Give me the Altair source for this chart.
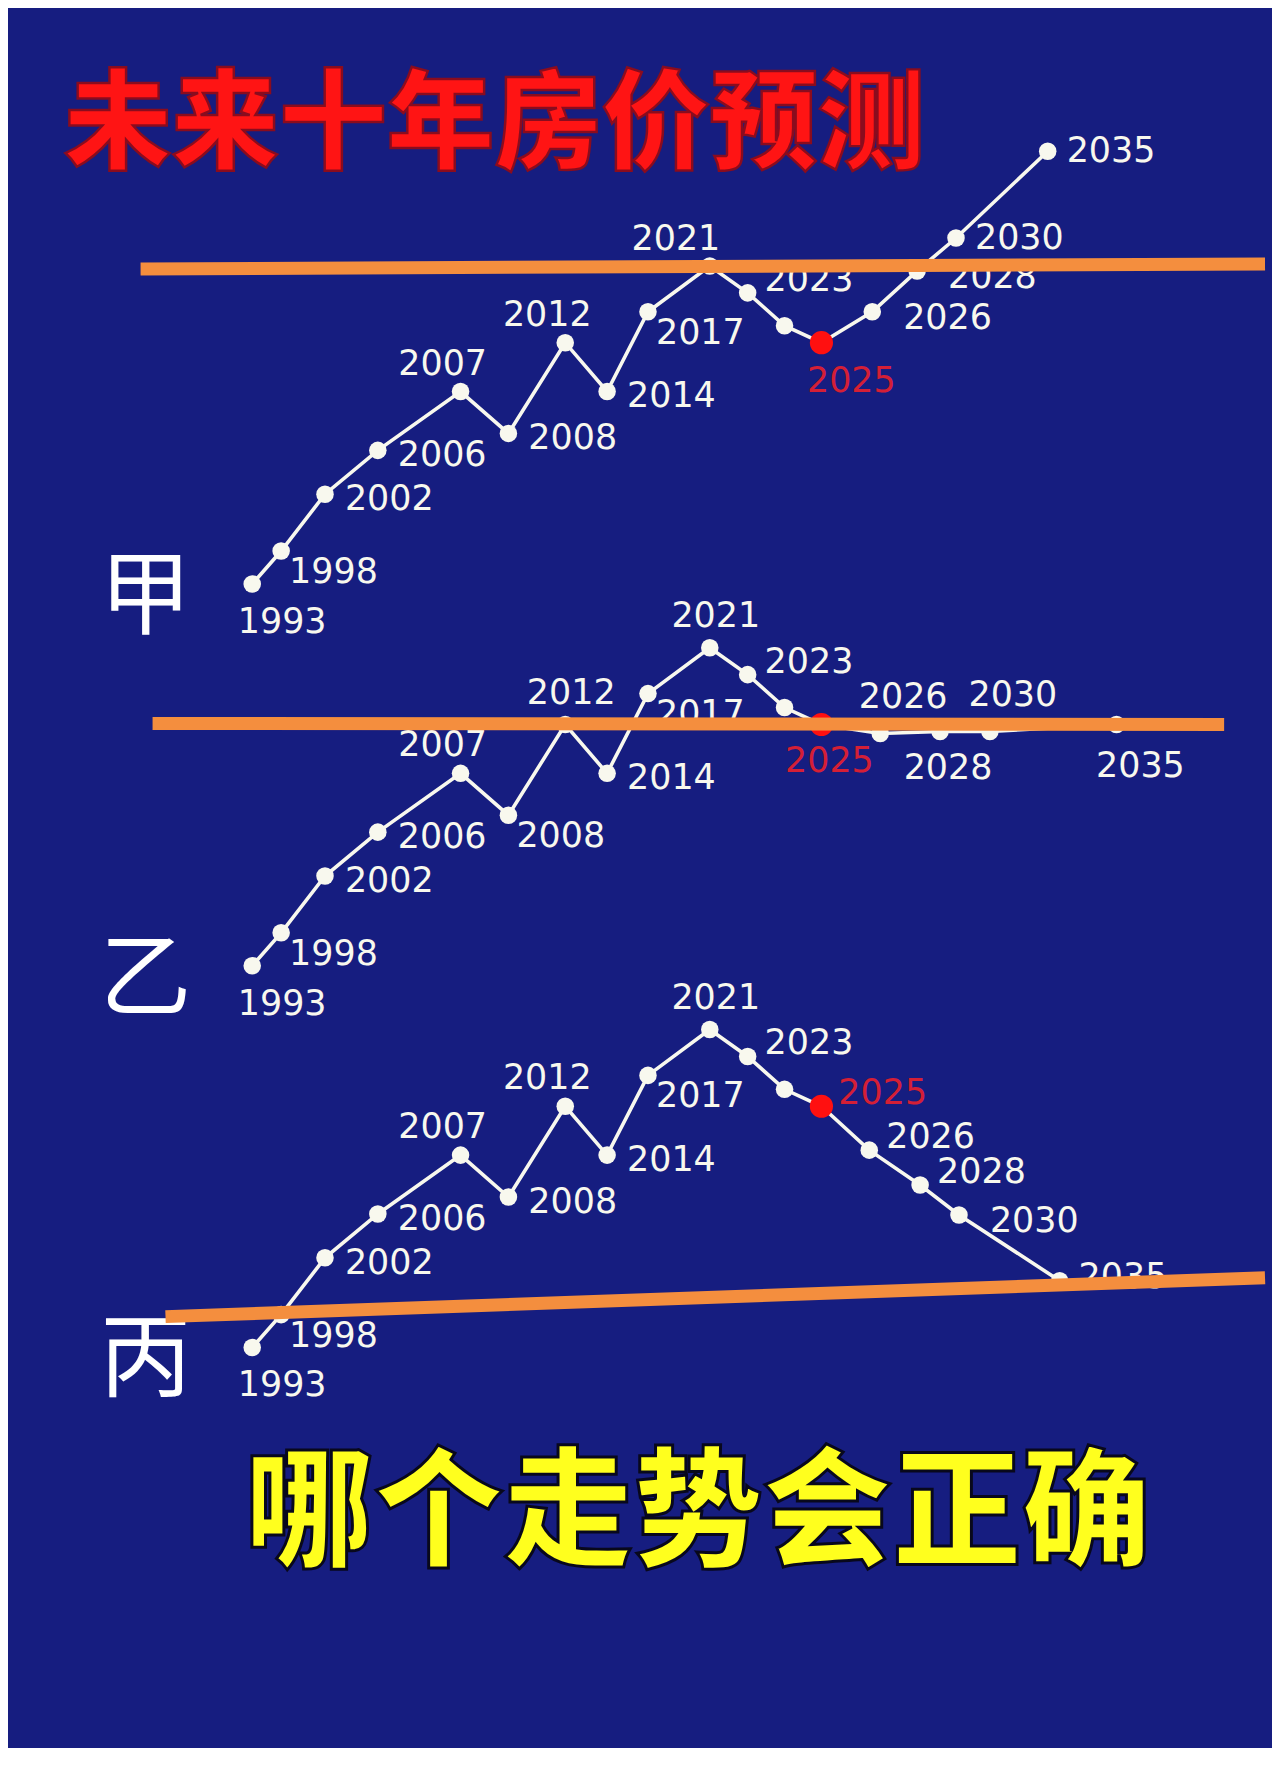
import pandas as pd
import altair as alt

TITLE = "未来十年房价预测"
QUESTION = "哪个走势会正确"

# shared history 1993-2025 (t = position along the time strip, level = price level)
hist_years = [1993, 1998, 2002, 2006, 2007, 2008, 2012, 2014, 2017, 2021, 2023, 2024, 2025]
hist_t = [0, 2.9, 7.3, 12.6, 20.9, 25.7, 31.4, 35.6, 39.7, 45.9, 49.7, 53.4, 57.1]
hist_level = [0, 3.3, 9.0, 13.4, 19.3, 15.1, 24.2, 19.3, 27.3, 31.9, 29.2, 25.9, 24.2]

# three scenarios for 2026-2035
fut_years = [2026, 2028, 2030, 2035]
jia_t = [62.2, 66.7, 70.6, 79.8]
jia_level = [27.3, 31.4, 34.7, 43.4]
yi_t = [63.0, 69.0, 74.0, 86.7]
yi_level = [23.3, 23.5, 23.5, 24.2]
bing_t = [61.9, 67.0, 70.9, 81.0]
bing_level = [19.8, 16.3, 13.3, 6.7]

# orange reference line of each scenario: t start, level start, t end, level end
jia_ref = [-11.2, 31.6, 101.6, 32.1]
yi_ref = [-10.0, 24.3, 97.5, 24.2]
bing_ref = [-8.7, 3.1, 101.6, 7.0]

# where each year label sits next to its dot
jia_side = ["below", "lower", "right", "right", "above", "right", "above", "right", "lower",
            "left_up", "upper", "none", "below", "far", "far", "level", "level"]
yi_side = ["below", "lower", "right", "right", "above", "lower", "over", "right", "lower",
           "over", "upper", "none", "under", "over_r", "under", "over_r", "under_r"]
bing_side = ["below", "lower", "right", "right", "above", "right", "above", "right", "lower",
             "over", "upper", "none", "upper", "upper", "upper", "far", "beside"]

BG = "#161d80"
WHITE = "#f8f8ee"
ORANGE = "#f48e3e"
RED_DOT = "#ff1010"
RED_TEXT = "#d41f36"
CJK = "Noto Sans CJK SC"
W = 1264
PANEL_H = 383

T_DOMAIN = [-24.5, 101.9]
LEVEL_DOMAIN = [-5.3, 33.0]

SIDES = {
    "below": dict(align="center", dx=30, dy=38),
    "under": dict(align="center", dx=8, dy=37),
    "under_r": dict(align="center", dx=24, dy=42),
    "above": dict(align="center", dx=-18, dy=-28),
    "left_up": dict(align="center", dx=-34, dy=-27),
    "over": dict(align="center", dx=6, dy=-32),
    "over_r": dict(align="center", dx=23, dy=-37),
    "right": dict(align="left", dx=20, dy=5),
    "level": dict(align="left", dx=19, dy=0),
    "far": dict(align="left", dx=31, dy=6),
    "beside": dict(align="left", dx=19, dy=-4),
    "lower": dict(align="left", dx=8, dy=21),
    "upper": dict(align="left", dx=17, dy=-13),
}


def panel(name, f_t, f_level, sides, ref):
    df = pd.DataFrame({
        "year": hist_years + fut_years,
        "t": hist_t + f_t,
        "level": hist_level + f_level,
        "side": sides,
    })
    df["label"] = df["year"].astype(str)
    df["now"] = df["year"] == 2025

    x = alt.X("t:Q", scale=alt.Scale(domain=T_DOMAIN, nice=False, zero=False), axis=None)
    y = alt.Y("level:Q", scale=alt.Scale(domain=LEVEL_DOMAIN, nice=False, zero=False), axis=None)
    base = alt.Chart(df).encode(x=x, y=y)

    line = base.mark_line(color=WHITE, strokeWidth=3.6)
    dots = base.mark_circle(opacity=1).encode(
        color=alt.condition(alt.datum.now, alt.value(RED_DOT), alt.value(WHITE)),
        size=alt.condition(alt.datum.now, alt.value(540), alt.value(310)),
    )
    labels = [
        base.transform_filter(alt.datum.side == side)
        .mark_text(font="DejaVu Sans", fontSize=35, baseline="middle", **opts)
        .encode(
            text="label:N",
            color=alt.condition(alt.datum.now, alt.value(RED_TEXT), alt.value(WHITE)),
        )
        for side, opts in SIDES.items()
    ]

    ref_df = pd.DataFrame({"t": [ref[0]], "level": [ref[1]], "t2": [ref[2]], "level2": [ref[3]]})
    trend = alt.Chart(ref_df).mark_rule(color=ORANGE, strokeWidth=13).encode(
        x=x, y=y, x2="t2:Q", y2="level2:Q"
    )

    tag = alt.Chart(pd.DataFrame({"name": [name]})).mark_text(
        font=CJK, fontSize=92, fontWeight=400, color="white", baseline="middle"
    ).encode(text="name:N", x=alt.value(138), y=alt.value(345))

    return alt.layer(line, dots, *labels, tag, trend).properties(width=W, height=PANEL_H)


# title block
top = alt.Chart(pd.DataFrame({"text": [TITLE]})).mark_text(
    font=CJK, fontSize=108, fontWeight=900, color="#ff1414",
    stroke="#8a0c1e", strokeWidth=2.5, baseline="middle"
).encode(
    text="text:N", x=alt.value(488), y=alt.value(118)
).properties(width=W, height=245)

# question block
bottom = alt.Chart(pd.DataFrame({"text": [QUESTION]})).mark_text(
    font=CJK, fontSize=130, fontWeight=900, color="#ffff1e",
    stroke="#08081c", strokeWidth=3, baseline="middle"
).encode(
    text="text:N", x=alt.value(692), y=alt.value(117)
).properties(width=W, height=346)

chart = alt.vconcat(
    top,
    panel("甲", jia_t, jia_level, jia_side, jia_ref),
    panel("乙", yi_t, yi_level, yi_side, yi_ref),
    panel("丙", bing_t, bing_level, bing_side, bing_ref),
    bottom,
    spacing=0,
    bounds="flush",
).properties(
    background=BG,
    padding=0,
).configure_view(stroke=None)

chart.save("out.html", embed_options={"renderer": "svg", "actions": False})
